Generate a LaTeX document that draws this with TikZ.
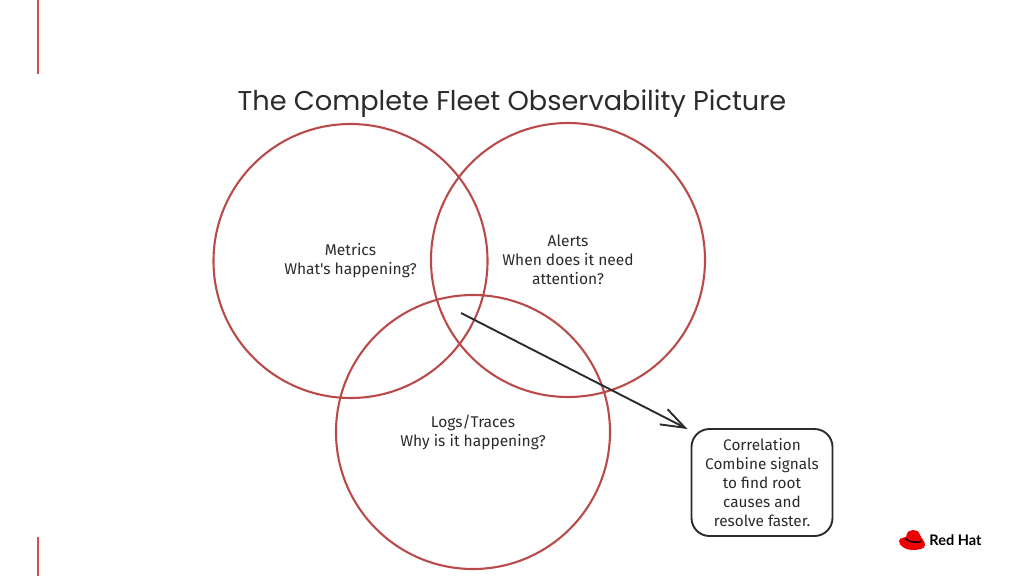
\documentclass[tikz,border=0pt]{standalone}
\usepackage{fontspec}
\setmainfont{Lato}
\newfontfamily\handfont{Fira Sans}
\newfontfamily\titlefont{Poppins}
\usepackage[rgb]{xcolor}
\usetikzlibrary{arrows.meta,positioning}

\definecolor{ringred}{HTML}{B94A4A}
\definecolor{inkgray}{HTML}{2B2B2B}
\definecolor{hatred}{HTML}{EE0000}
\definecolor{edgered}{HTML}{DA4A4A}

\tikzset{
	ring/.style={circle, draw=ringred, line width=2.1pt, minimum size=274bp, inner sep=0pt, align=center, text=inkgray, font=\handfont\fontsize{15.6}{19}\selectfont},
	notebox/.style={draw=inkgray, line width=1.9pt, rounded corners=18bp, minimum width=141bp, minimum height=107bp, inner sep=0pt, align=center, text=inkgray, font=\handfont\fontsize{15.4}{19}\selectfont},
	sidebar/.style={draw=edgered, line width=2bp}
}

\begin{document}
\begin{tikzpicture}[>={Straight Barb[length=24bp,width=17bp,line width=1.9pt]}]
	\useasboundingbox (0bp,0bp) rectangle (1024bp,-576bp);

	\coordinate (topbar) at (37.5bp,0bp);
	\coordinate (topend) at (37.5bp,-74bp);
	\coordinate (lowbar) at (37.5bp,-537bp);
	\coordinate (lowend) at (37.5bp,-576bp);
	\draw [sidebar] (topbar) -- (topend);
	\draw [sidebar] (lowbar) -- (lowend);

	\node (title) at (512bp,-104bp) [text=inkgray, font=\titlefont\fontsize{27.3}{32}\selectfont] {The Complete Fleet Observability Picture};

	\node (metrics) at (350.5bp,-261bp) [ring] {Metrics\\What's happening?};
	\node (alerts) at (568bp,-260bp) [ring] {Alerts\\When does it need\\attention?};
	\node (logs) at (473bp,-432bp) [ring] {Logs/Traces\\Why is it happening?};

	\node (correlation) at (762bp,-482.5bp) [notebox] {Correlation\\Combine signals\\to find root\\causes and\\resolve faster.};

	\coordinate (overlap) at (461bp,-313bp);
	\draw [->, draw=inkgray, line width=1.9pt] (overlap) to ([xshift=-3bp,yshift=-1bp]correlation.north west);

	% logo
	\fill [hatred] (899bp,-541bp) .. controls (900bp,-537bp) and (904bp,-538bp) .. (906bp,-537bp) .. controls (907bp,-531bp) and (910bp,-530bp) .. (913bp,-530bp) .. controls (916bp,-530bp) and (919bp,-531bp) .. (920bp,-535bp) .. controls (921bp,-538bp) and (925bp,-541bp) .. (925bp,-545bp) .. controls (925bp,-549bp) and (918bp,-550bp) .. (912bp,-550bp) .. controls (906bp,-550bp) and (899bp,-546bp) .. (899bp,-541bp) -- cycle;
	\draw [black, line width=1.4pt] (905bp,-538.5bp) .. controls (910bp,-543bp) and (918bp,-543bp) .. (921.5bp,-541bp);
	\node (logo) at (955.5bp,-540bp) [text=black, font=\bfseries\fontsize{14.6}{16}\selectfont, inner sep=0pt] {Red Hat};
\end{tikzpicture}
\end{document}
